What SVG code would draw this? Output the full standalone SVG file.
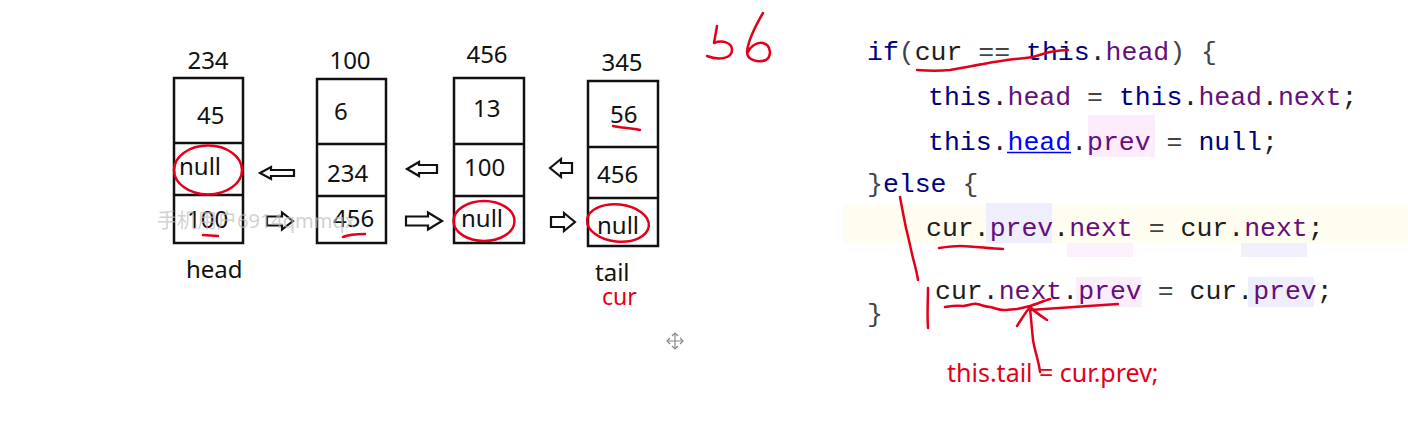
<svg xmlns="http://www.w3.org/2000/svg" width="1408" height="422" viewBox="0 0 1408 422">
<style>
.box{fill:#fff;stroke:#111;stroke-width:2.5}
.div{stroke:#111;stroke-width:2.5}
.t{font-family:"Noto Sans","Liberation Sans",sans-serif;font-size:24px;fill:#111}
.arr{fill:#fff;stroke:#111;stroke-width:2.2;stroke-linejoin:miter}
.red{fill:none;stroke:#e3001b;stroke-width:2.5;stroke-linecap:round;stroke-linejoin:round}
.rt{font-family:"Noto Sans","Liberation Sans",sans-serif;fill:#e3001b}
.code{font-family:"Liberation Mono","Courier New",monospace;font-size:26.5px}
.kw{fill:#000080}
.fld{fill:#660e7a}
.id{fill:#1e1e1e}
.op{fill:#444}
.lnk{fill:#0000ff}
</style>
<rect width="1408" height="422" fill="#fff"/>

<!-- code backgrounds -->
<g id="code-bg">
<rect x="843" y="205" width="565" height="38" fill="#fefdf0"/>
<rect x="1088" y="115" width="67" height="42" fill="#fcecfc"/>
<rect x="986" y="203" width="66" height="40" fill="#eeeefc"/>
<rect x="1067" y="243" width="66" height="14" fill="#fcf0fc"/>
<rect x="1241" y="243" width="66" height="14" fill="#f1f0fc"/>
<rect x="1076" y="277" width="66" height="30" fill="#fcedfc"/>
<rect x="1248" y="277" width="66" height="30" fill="#efeefc"/>
</g>

<!-- nodes -->
<g id="node-234">
<rect class="box" x="174" y="78" width="69" height="165"/>
<line class="div" x1="174" y1="143" x2="243" y2="143"/>
<line class="div" x1="174" y1="195" x2="243" y2="195"/>
<text class="t" x="208" y="69" text-anchor="middle">234</text>
<text class="t" x="197" y="124">45</text>
<text class="t" x="179" y="175">null</text>
<text class="t" x="187" y="228">100</text>
<text class="t" x="186" y="278">head</text>
</g>
<g id="node-100">
<rect class="box" x="317" y="79" width="69" height="164"/>
<line class="div" x1="317" y1="144" x2="386" y2="144"/>
<line class="div" x1="317" y1="196" x2="386" y2="196"/>
<text class="t" x="350" y="69" text-anchor="middle">100</text>
<text class="t" x="334" y="120">6</text>
<text class="t" x="327" y="182">234</text>
<text class="t" x="333" y="227">456</text>
</g>
<g id="node-456">
<rect class="box" x="454" y="78" width="70" height="165"/>
<line class="div" x1="454" y1="144" x2="524" y2="144"/>
<line class="div" x1="454" y1="196" x2="524" y2="196"/>
<text class="t" x="487" y="63" text-anchor="middle">456</text>
<text class="t" x="473" y="117">13</text>
<text class="t" x="464" y="176">100</text>
<text class="t" x="461" y="227">null</text>
</g>
<g id="node-345">
<rect class="box" x="588" y="81" width="70" height="165"/>
<line class="div" x1="588" y1="147" x2="658" y2="147"/>
<line class="div" x1="588" y1="198" x2="658" y2="198"/>
<text class="t" x="622" y="71" text-anchor="middle">345</text>
<text class="t" x="610" y="123">56</text>
<text class="t" x="597" y="183">456</text>
<text class="t" x="597" y="234">null</text>
<text class="t" x="595" y="281">tail</text>
<text class="rt" x="602" y="305" font-size="23">cur</text>
</g>

<!-- connectors -->
<g id="connectors">
<path class="arr" d="M260,173 L271,167 L271,170 L294,170 L294,176 L271,176 L271,179 Z"/>
<path class="arr" d="M293,221 L282,212.5 L282,216.5 L267,216.5 L267,225.5 L282,225.5 L282,229.5 Z"/>
<path class="arr" d="M407,169 L419,162 L419,165 L437,165 L437,173 L419,173 L419,176 Z"/>
<path class="arr" d="M442,221 L428,212.5 L428,216.5 L406,216.5 L406,225.5 L428,225.5 L428,229.5 Z"/>
<path class="arr" d="M550,168 L561,159 L561,163 L572,163 L572,173 L561,173 L561,177 Z"/>
<path class="arr" d="M575,222 L564,213 L564,217 L551,217 L551,227 L564,227 L564,231 Z"/>
</g>

<!-- red annotations on list -->
<g id="list-marks">
<ellipse class="red" cx="208" cy="170" rx="34" ry="24.5"/>
<ellipse class="red" cx="484" cy="221" rx="30.5" ry="20"/>
<ellipse class="red" cx="618" cy="223" rx="31" ry="18.5" transform="rotate(6 618 223)"/>
<path class="red" d="M203,235 L218,236"/>
<path class="red" d="M343,237 C350,234 358,234 365,234"/>
<path class="red" d="M613,126 C622,128 632,128 640,130"/>
<path class="red" stroke-width="3" d="M717,26 L714,43 C722,40 732,42 732,50 C732,58 720,61 707,56"/>
<path class="red" stroke-width="3" d="M763,13 C756,25 748,40 747,52 C747,60 758,63 766,60 C772,56 771,45 763,43 C756,42 750,47 748,52"/>
</g>

<text x="157" y="228" font-family="'Noto Sans','Noto Sans CJK SC',sans-serif" font-size="20" fill="#bdbdbd" fill-opacity="0.7">手机用户6914qmmqx</text>

<!-- move cursor icon -->
<g id="move-icon" fill="none" stroke="#888" stroke-width="1.2">
<path d="M667,341 L683,341 M675,333 L675,349"/>
<path d="M670,338 L667,341 L670,344 M680,338 L683,341 L680,344 M672,336 L675,333 L678,336 M672,346 L675,349 L678,346"/>
</g>

<!-- code -->
<g id="code" class="code">
<text x="867" y="60" xml:space="preserve"><tspan class="kw">if</tspan><tspan class="op">(</tspan><tspan class="id">cur</tspan><tspan class="op"> == </tspan><tspan class="kw">this</tspan><tspan class="id">.</tspan><tspan class="fld">head</tspan><tspan class="op">) {</tspan></text>
<text x="928" y="105" xml:space="preserve"><tspan class="kw">this</tspan><tspan class="id">.</tspan><tspan class="fld">head</tspan><tspan class="op"> = </tspan><tspan class="kw">this</tspan><tspan class="id">.</tspan><tspan class="fld">head</tspan><tspan class="id">.</tspan><tspan class="fld">next</tspan><tspan class="id">;</tspan></text>
<text x="928" y="150" xml:space="preserve"><tspan class="kw">this</tspan><tspan class="id">.</tspan><tspan class="lnk">head</tspan><tspan class="id">.</tspan><tspan class="fld">prev</tspan><tspan class="op"> = </tspan><tspan class="kw">null</tspan><tspan class="id">;</tspan></text>
<line x1="1007" y1="152.5" x2="1071" y2="152.5" stroke="#0000ff" stroke-width="1.5"/>
<text x="867" y="192" xml:space="preserve"><tspan class="op">}</tspan><tspan class="kw">else</tspan><tspan class="op"> {</tspan></text>
<text x="926" y="236" xml:space="preserve"><tspan class="id">cur.</tspan><tspan class="fld">prev</tspan><tspan class="id">.</tspan><tspan class="fld">next</tspan><tspan class="op"> = </tspan><tspan class="id">cur.</tspan><tspan class="fld">next</tspan><tspan class="id">;</tspan></text>
<text x="935" y="299" xml:space="preserve"><tspan class="id">cur.</tspan><tspan class="fld">next</tspan><tspan class="id">.</tspan><tspan class="fld">prev</tspan><tspan class="op"> = </tspan><tspan class="id">cur.</tspan><tspan class="fld">prev</tspan><tspan class="id">;</tspan></text>
<text x="867" y="322" class="op">}</text>
</g>

<!-- red annotations on code -->
<g id="code-marks">
<path class="red" d="M917,70 C930,71 940,71 950,70 C962,68 972,66 983,64 C992,62 1000,61 1007,60 C1017,59 1026,58 1033,57 C1040,55 1045,53 1050,52 C1056,51 1062,50 1068,50"/>
<path class="red" d="M900,197 C902,208 904,218 906,228 C909,240 911,250 913,258 C915,266 917,273 918,280"/>
<path class="red" d="M928,288 C928,300 927,314 928,328"/>
<path class="red" d="M939,248 C946,247 953,246 960,246 C975,246 990,249 1003,249"/>
<path class="red" d="M945,307 C951,306 957,305 963,306 C968,306 973,303 977,304 C982,305 986,307 990,307 C995,308 999,310 1003,310 C1008,310 1013,309 1017,309 C1022,308 1026,307 1030,306 C1036,304 1044,301 1050,299 M1030,310 C1060,308 1090,306 1118,304"/>
<path class="red" d="M1040,372 C1039,362 1035,352 1033,340 C1032,330 1031,318 1030,308"/>
<path class="red" d="M1017,326 C1021,320 1025,313 1030,307 C1035,312 1041,316 1047,320"/>
<text class="rt" x="947" y="382" font-size="25">this.tail = cur.prev;</text>
</g>
</svg>
